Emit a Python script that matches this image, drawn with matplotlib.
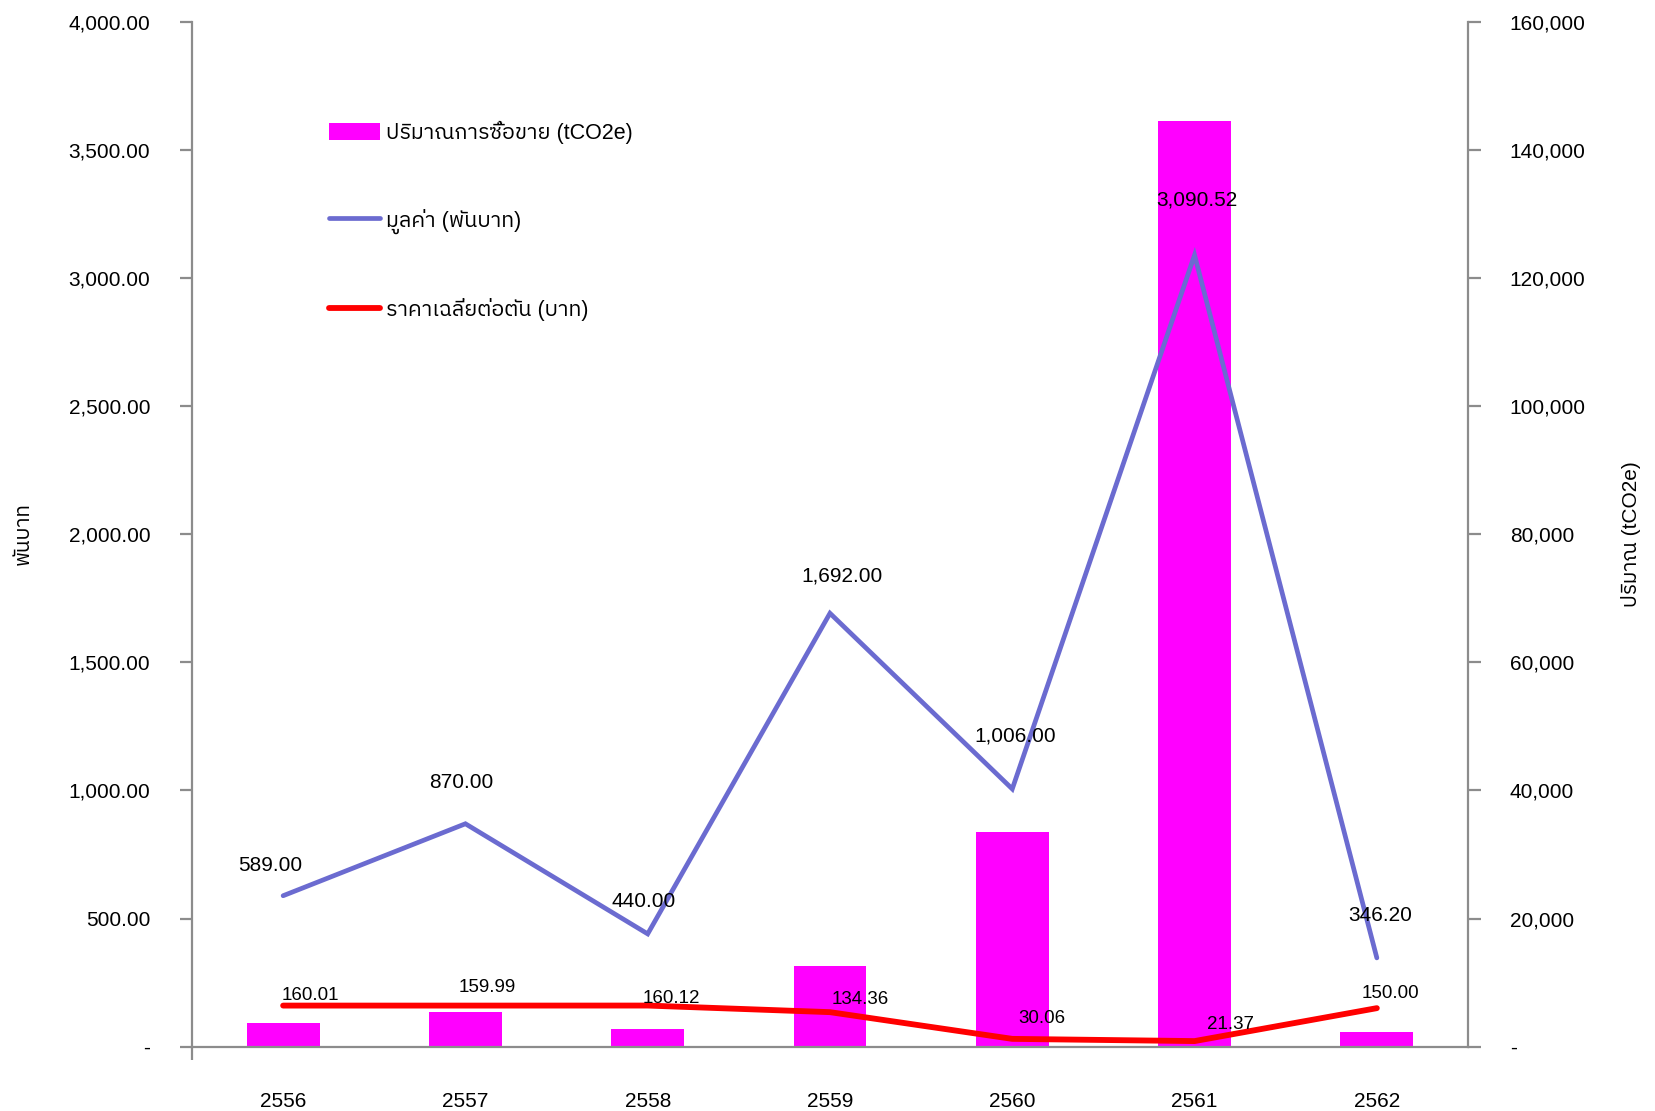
import numpy as np
import matplotlib
matplotlib.use("Agg")
import matplotlib.pyplot as plt
from matplotlib import font_manager
from matplotlib.ft2font import FT2Font
from matplotlib.ticker import FuncFormatter, FixedLocator

years = ["2556", "2557", "2558", "2559", "2560", "2561", "2562"]
value_k_baht = [589.00, 870.00, 440.00, 1692.00, 1006.00, 3090.52, 346.20]
avg_price = [160.01, 159.99, 160.12, 134.36, 30.06, 21.37, 150.00]
volume_tco2e = [3681, 5438, 2748, 12593, 33466, 144619, 2308]

label_bar = "ปริมาณการซื้อขาย (tCO2e)"
label_value = "มูลค่า (พันบาท)"
label_price = "ราคาเฉลี่ยต่อตัน (บาท)"
ylabel_left = "พันบาท"
ylabel_right = "ปริมาณ (tCO2e)"

# label offsets in pixels
value_offsets = [(-13, 30), (-4, 41), (-4, 32), (12, 37), (3, 53), (2, 55), (3, 42)]
price_offsets = [(27, 10), (22, 18), (24, 7), (30, 13), (30, 20), (36, 17), (14, 15)]


def find_thai_font():
    paths = set(f.fname for f in font_manager.fontManager.ttflist)
    try:
        paths.update(font_manager.findSystemFonts())
    except Exception:
        pass
    found = []
    for p in paths:
        try:
            ft = FT2Font(p)
            if ft.get_char_index(0x0E01) and ft.get_char_index(0x0E1E) and ft.get_char_index(0x0E34):
                found.append((p, ft.family_name))
        except Exception:
            continue

    def score(item):
        name = item[1].lower()
        s = 0
        if "thai" in name:
            s -= 5
        if "sans" in name:
            s -= 3
        if "looped" in name or "ui" in name:
            s += 2
        for good in ["loma", "garuda", "sarabun", "tahoma"]:
            if good in name:
                s -= 4
        return s

    found.sort(key=score)
    for p, name in found:
        try:
            font_manager.fontManager.addfont(p)
            return font_manager.FontProperties(fname=p).get_name()
        except Exception:
            continue
    return None


thai = find_thai_font()
families = ["Liberation Sans", "DejaVu Sans"]
if thai:
    families.insert(1, thai)
families.append("Noto Sans CJK SC")
plt.rcParams["font.family"] = families

fig = plt.figure(figsize=(16.55, 11.11), dpi=100)
ax1 = fig.add_axes([0.116, 0.058, 0.771, 0.922])
ax2 = ax1.twinx()
ax1.set_zorder(ax2.get_zorder() + 1)
ax1.patch.set_visible(False)

x = np.arange(len(years))
bars = ax2.bar(x, volume_tco2e, width=0.4, color="#FF00FF", label=label_bar)

ln1, = ax1.plot(x, value_k_baht, color="#6B6BD0", lw=3.4, solid_capstyle="round",
                solid_joinstyle="miter", label=label_value)
ln2, = ax1.plot(x, avg_price, color="#FF0000", lw=4.2, solid_capstyle="round",
                label=label_price)

for xi, v, off in zip(x, value_k_baht, value_offsets):
    ax1.annotate(f"{v:,.2f}", (xi, v), xytext=off, textcoords="offset pixels",
                 ha="center", va="center", fontsize=15)
for xi, v, off in zip(x, avg_price, price_offsets):
    ax1.annotate(f"{v:,.2f}", (xi, v), xytext=off, textcoords="offset pixels",
                 ha="center", va="center", fontsize=13.5)

ax1.set_xlim(-0.5, len(years) - 0.5)
ax1.set_ylim(0, 4000)
ax2.set_ylim(0, 160000)
ax1.set_yticks(np.arange(0, 4001, 500))
ax2.set_yticks(np.arange(0, 160001, 20000))
ax1.yaxis.set_major_formatter(FuncFormatter(lambda v, p: "-" if v == 0 else f"{v:,.2f}"))
ax2.yaxis.set_major_formatter(FuncFormatter(lambda v, p: "-" if v == 0 else f"{v:,.0f}"))

ax1.set_xticks(x)
ax1.set_xticklabels(years)
ax1.xaxis.set_minor_locator(FixedLocator([-0.5]))

grey = "#8C8C8C"
for a in (ax1, ax2):
    for s in a.spines.values():
        s.set_color(grey)
        s.set_linewidth(1.6)
    a.spines["top"].set_visible(False)
ax1.spines["right"].set_visible(False)
ax2.spines["left"].set_visible(False)
ax2.spines["bottom"].set_visible(False)

ax1.tick_params(axis="y", length=9, width=1.6, color=grey, pad=21, labelsize=15)
ax2.tick_params(axis="y", length=9, width=1.6, color=grey, pad=21, labelsize=15)
ax1.tick_params(axis="x", which="major", length=0, pad=33, labelsize=15)
ax1.tick_params(axis="x", which="minor", length=9, width=1.6, color=grey)

fig.text(23 / 1655, 1 - 534 / 1111, ylabel_left, rotation=90, ha="center", va="center", fontsize=15)
fig.text(1631 / 1655, 1 - 534 / 1111, ylabel_right, rotation=90, ha="center", va="center", fontsize=15)

ax1.legend([bars, ln1, ln2], [label_bar, label_value, label_price],
           loc="upper left", bbox_to_anchor=(0.107, 0.904), frameon=False,
           fontsize=15.5, labelspacing=3.0, handlelength=2.4, handleheight=0.85,
           handletextpad=0.25, borderpad=0, borderaxespad=0)

fig.savefig("out.png", dpi=100)
